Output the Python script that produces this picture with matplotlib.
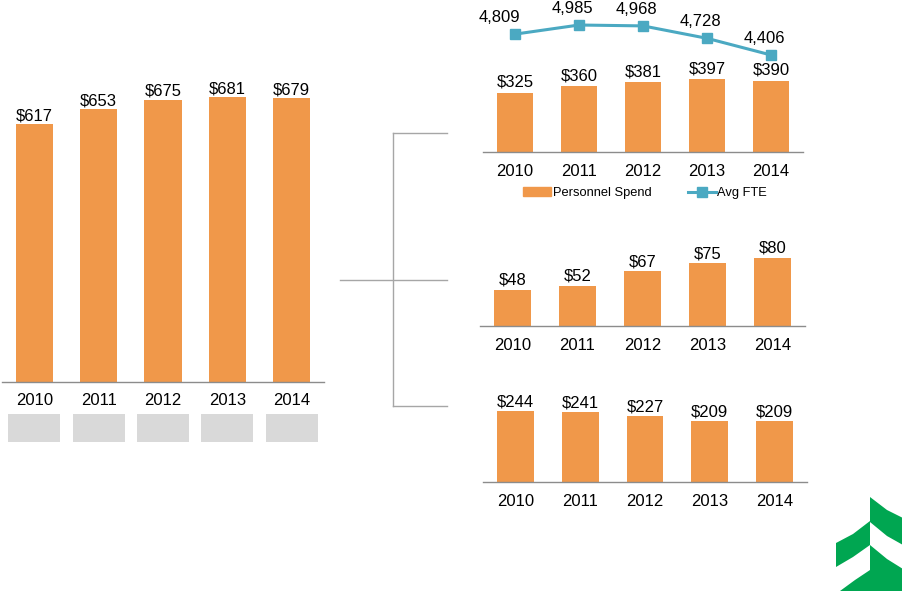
import matplotlib
matplotlib.use("Agg")
import matplotlib.pyplot as plt
from matplotlib.patches import Polygon, Patch
from matplotlib.lines import Line2D

plt.rcParams['font.family'] = ['Liberation Sans', 'DejaVu Sans']

W, H = 903, 591

years = ["2010", "2011", "2012", "2013", "2014"]
total_spend = [617, 653, 675, 681, 679]
personnel_spend = [325, 360, 381, 397, 390]
avg_fte = [4809, 4985, 4968, 4728, 4406]
middle_spend = [48, 52, 67, 75, 80]
bottom_spend = [244, 241, 227, 209, 209]

ORANGE = "#F0984A"
TEAL = "#4BA9C2"
GREY_LINE = "#8C8C8C"
GREEN = "#00A651"


def px_axes(fig, x0, y_top, x1, y_bot):
    # place an axes using pixel positions measured from the top-left corner
    return fig.add_axes([x0 / W, 1 - y_bot / H, (x1 - x0) / W, (y_bot - y_top) / H])


def bar_panel(ax, values, ylim, width, pad, label_off):
    x = range(len(values))
    bars = ax.bar(x, values, width=width, color=ORANGE, zorder=2)
    ax.set_xlim(-0.5, len(values) - 0.5)
    ax.set_ylim(*ylim)
    for s in ["left", "right", "top"]:
        ax.spines[s].set_visible(False)
    ax.spines["bottom"].set_color(GREY_LINE)
    ax.spines["bottom"].set_linewidth(1)
    ax.set_yticks([])
    ax.set_xticks(list(x))
    ax.set_xticklabels(years, fontsize=12)
    ax.tick_params(axis="x", length=0, pad=pad)
    ax.patch.set_alpha(0)
    for b, v in zip(bars, values):
        ax.annotate(f"${v}", (b.get_x() + b.get_width() / 2, v),
                    xytext=(0, label_off), textcoords="offset pixels",
                    ha="center", va="bottom", fontsize=12, annotation_clip=False)
    return bars


fig = plt.figure(figsize=(W / 100, H / 100), dpi=100)

# background overlay for bracket lines and logo
bg = fig.add_axes([0, 0, 1, 1])
bg.set_xlim(0, W)
bg.set_ylim(H, 0)
bg.axis("off")
bg.plot([393, 393], [133, 406], color="#A6A6A6", lw=1)
bg.plot([393, 447], [133, 133], color="#A6A6A6", lw=1)
bg.plot([393, 447], [406, 406], color="#A6A6A6", lw=1)
bg.plot([340, 447], [280, 280], color="#A6A6A6", lw=1)

logo = [
    [(870, 497), (887, 510), (903, 518), (903, 545), (887, 536), (870, 522)],
    [(870, 545), (887, 559), (903, 569), (903, 591), (870, 591)],
    [(870, 521), (853, 534), (836, 543), (836, 567), (853, 557), (870, 545)],
    [(870, 570), (855, 580), (840, 591), (870, 591)],
]
for pts in logo:
    bg.add_patch(Polygon(pts, closed=True, color=GREEN, lw=0))

# left chart
ax_left = px_axes(fig, 2, 82, 324, 382)
bar_panel(ax_left, total_spend, (0, 300 / 0.418), 0.575, 8, 1)

# grey placeholder boxes under the left chart
ax_box = px_axes(fig, 2, 414, 324, 442)
ax_box.bar(range(len(years)), [1] * len(years), width=0.81, color="#D9D9D9")
ax_box.set_xlim(-0.5, len(years) - 0.5)
ax_box.set_ylim(0, 1)
ax_box.axis("off")

# top right chart with avg FTE line
ax_top = px_axes(fig, 483, 0, 803, 152)
bar_panel(ax_top, personnel_spend, (0, 152 / 0.183), 0.56, 9, 3)
ax_fte = ax_top.twinx()
ax_fte.set_ylim(2533, 5468)
ax_fte.axis("off")
ax_fte.plot(range(len(years)), avg_fte, color=TEAL, lw=2.2, marker="s",
            ms=7, mfc=TEAL, mec=TEAL, zorder=3)
for i, v in enumerate(avg_fte):
    dx = -16 if i == 0 else -7
    ax_fte.annotate(f"{v:,}", (i, v), xytext=(dx, 9), textcoords="offset pixels",
                    ha="center", va="bottom", fontsize=12, annotation_clip=False)

handles = [Patch(color=ORANGE),
           Line2D([0], [0], color=TEAL, lw=2.2, marker="s", ms=7)]
ax_top.legend(handles, ["Personnel Spend", "Avg FTE"], ncol=2, loc="center",
              bbox_to_anchor=(645 / W, 1 - 193 / H), bbox_transform=fig.transFigure,
              frameon=False, fontsize=9.3, handlelength=2.2, handletextpad=0.1,
              columnspacing=2.8)

# middle right chart
ax_mid = px_axes(fig, 480, 246, 805, 326)
bar_panel(ax_mid, middle_spend, (12, 92), 0.57, 9, 2)

# bottom right chart
ax_bot = px_axes(fig, 483, 392, 807, 482)
bar_panel(ax_bot, bottom_spend, (0, 90 / 0.29), 0.57, 9, 2)

fig.savefig("out.png", dpi=100)
